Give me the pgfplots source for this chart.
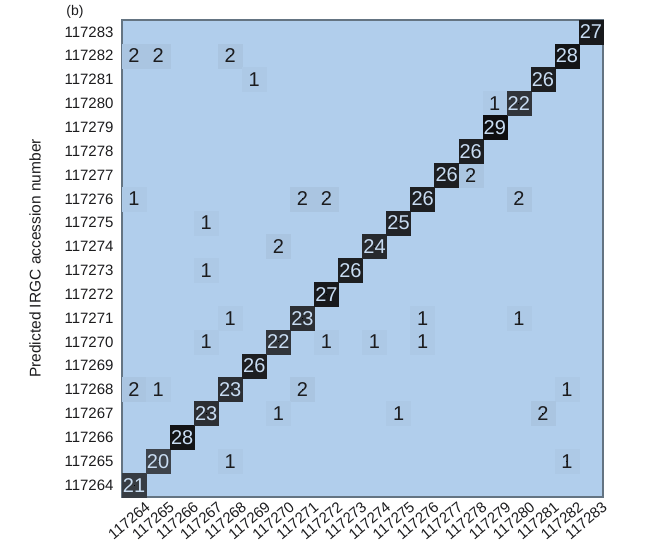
\documentclass[border=0pt]{standalone}
\usepackage{pgfplots}
\pgfplotsset{compat=1.18}
\usepackage{fontspec}
\setmainfont{Liberation Sans}

\definecolor{cmbg}{RGB}{177,206,236}
\definecolor{framec}{RGB}{100,116,130}
\definecolor{lighttext}{RGB}{200,220,242}
\definecolor{darktext}{RGB}{28,28,30}

% confusion matrix, non-zero cells only: x = actual, y = predicted, v = count
\pgfplotstableread{
x y v
0 0 21
1 1 20
2 2 28
3 3 23
4 4 23
5 5 26
6 6 22
7 7 23
8 8 27
9 9 26
10 10 24
11 11 25
12 12 26
13 13 26
14 14 26
15 15 29
16 16 22
17 17 26
18 18 28
19 19 27
}\diagcells

\pgfplotstableread{
x y v
0 18 2
1 18 2
4 18 2
5 17 1
15 16 1
14 13 2
0 12 1
7 12 2
8 12 2
16 12 2
3 11 1
6 10 2
3 9 1
4 7 1
12 7 1
16 7 1
3 6 1
8 6 1
10 6 1
12 6 1
0 4 2
1 4 1
7 4 2
18 4 1
6 3 1
11 3 1
17 3 2
4 1 1
18 1 1
}\offcells

\pgfplotsset{
  cells/.style={scatter, only marks, mark=square*, mark size=12pt,
    scatter/use mapped color={draw=mapped color, fill=mapped color},
    point meta=\thisrow{v}},
  labels/.style={only marks, mark=*, mark size=0pt,
    mark options={draw=none, fill=none, line width=0pt},
    point meta=\thisrow{v},
    nodes near coords={\pgfmathprintnumber[assume math mode=true]{\pgfplotspointmeta}},
    nodes near coords align=center,
    every node near coord/.append style={font=\fontsize{20}{22}\selectfont, text=#1, inner sep=0pt}},
}

\begin{document}
\begin{tikzpicture}
\begin{axis}[
  at={(122pt,62pt)}, anchor=south west,
  scale only axis, width=481pt, height=477pt,
  xmin=-0.5, xmax=19.5, ymin=-0.5, ymax=19.5,
  axis background/.style={fill=cmbg},
  axis line style={draw=framec, line width=2.4pt},
  colormap={confcm}{rgb255=(177,206,236) rgb255=(150,172,196) rgb255=(95,108,122) rgb255=(50,54,60) rgb255=(14,14,16)},
  point meta min=0, point meta max=29,
  xtick={0,...,19}, ytick={0,...,19},
  xticklabels={117264,117265,117266,117267,117268,117269,117270,117271,117272,117273,117274,117275,117276,117277,117278,117279,117280,117281,117282,117283},
  yticklabels={117264,117265,117266,117267,117268,117269,117270,117271,117272,117273,117274,117275,117276,117277,117278,117279,117280,117281,117282,117283},
  major tick length=0pt,
  tick label style={font=\fontsize{15}{17}\selectfont, text=darktext},
  yticklabel style={xshift=-5pt},
  xticklabel style={rotate=40, anchor=north east, xshift=9pt, yshift=-6pt},
  ylabel={Predicted IRGC accession number},
  every axis y label/.style={at={(axis description cs:0,0.5)}, xshift=-87pt, rotate=90, anchor=center, font=\fontsize{15.5}{17}\selectfont, text=darktext},
  clip=false,
]
\addplot[cells] table[x=x, y=y] {\offcells};
\addplot[cells] table[x=x, y=y] {\diagcells};
\addplot[labels=darktext] table[x=x, y=y] {\offcells};
\addplot[labels=lighttext] table[x=x, y=y] {\diagcells};
\end{axis}
\node[font=\fontsize{14}{16}\selectfont, text=darktext] at (75pt,547pt) {(b)};
\pgfresetboundingbox
\path (0,0) rectangle (650pt,559pt);
\end{tikzpicture}
\end{document}
